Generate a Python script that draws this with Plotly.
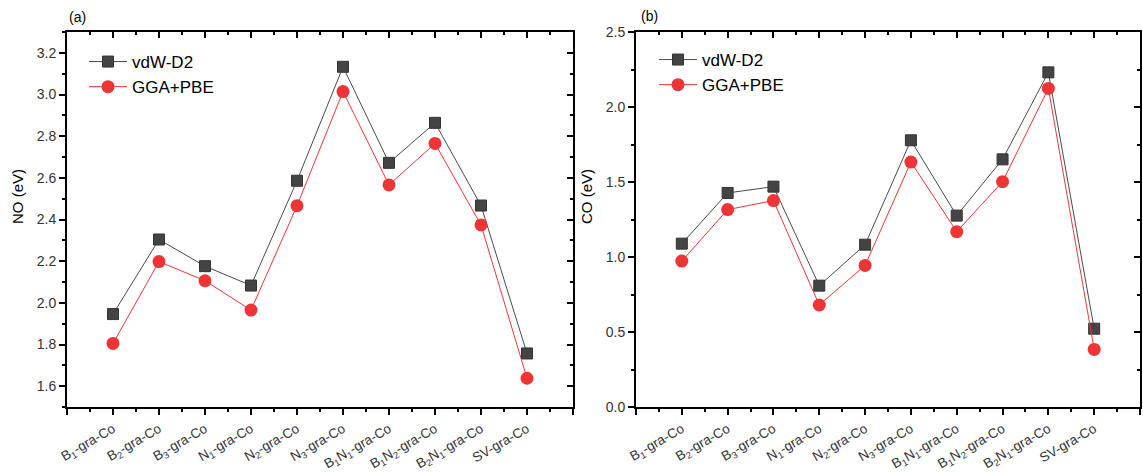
import plotly.graph_objects as go

categories = ["B<sub>1</sub>-gra-Co", "B<sub>2</sub>-gra-Co", "B<sub>3</sub>-gra-Co",
              "N<sub>1</sub>-gra-Co", "N<sub>2</sub>-gra-Co", "N<sub>3</sub>-gra-Co",
              "B<sub>1</sub>N<sub>1</sub>-gra-Co", "B<sub>1</sub>N<sub>2</sub>-gra-Co",
              "B<sub>2</sub>N<sub>1</sub>-gra-Co", "SV-gra-Co"]
positions = [1, 2, 3, 4, 5, 6, 7, 8, 9, 10]

no_vdw = [1.946, 2.304, 2.176, 2.083, 2.586, 3.133, 2.672, 2.864, 2.467, 1.757]
no_gga = [1.805, 2.198, 2.106, 1.965, 2.466, 3.014, 2.566, 2.765, 2.374, 1.638]
co_vdw = [1.089, 1.427, 1.469, 0.809, 1.082, 1.778, 1.276, 1.651, 2.231, 0.522]
co_gga = [0.973, 1.316, 1.376, 0.680, 0.944, 1.633, 1.169, 1.502, 2.124, 0.384]

series_names = ["vdW-D2", "GGA+PBE"]
axis_titles = ["NO (eV)", "CO (eV)"]
panel_labels = ["(a)", "(b)"]

FONT = "Arial, Liberation Sans, sans-serif"
GREY_LINE = "#4a4a4a"
GREY_MARK = "#444444"
RED = "#ee3535"

W, H = 1143, 474
def px_x(p):
    return p / W
def px_y(p):
    return 1 - p / H

fig = go.Figure()

def add_series(xa, ya, vdw, gga, legend):
    fig.add_trace(go.Scatter(x=positions, y=vdw, name=series_names[0], mode="lines+markers",
                             line=dict(color=GREY_LINE, width=1),
                             marker=dict(symbol="square", size=11, color=GREY_MARK,
                                         line=dict(color="#333333", width=1)),
                             xaxis=xa, yaxis=ya, legend=legend))
    fig.add_trace(go.Scatter(x=positions, y=gga, name=series_names[1], mode="lines+markers",
                             line=dict(color=RED, width=1),
                             marker=dict(symbol="circle", size=13, color=RED,
                                         line=dict(color=RED, width=0)),
                             xaxis=xa, yaxis=ya, legend=legend))

add_series("x", "y", no_vdw, no_gga, "legend")
add_series("x2", "y2", co_vdw, co_gga, "legend2")

# empty carriers so the mirrored frame axes (top / right, inward ticks) get drawn
for xa, ya in (("x3", "y3"), ("x4", "y4")):
    fig.add_trace(go.Scatter(x=[None], y=[None], xaxis=xa, yaxis=ya, showlegend=False,
                             hoverinfo="skip", mode="markers"))

xmajor = list(range(0, 12))
xtext = [""] + categories + [""]
xminor = [i + 0.5 for i in range(11)]

tickfont = dict(family=FONT, size=14, color="#333333")
AXW = 1.8

def xaxis_main(domain, anchor):
    return dict(domain=domain, anchor=anchor, range=[0, 11], tickmode="array",
                tickvals=xmajor, ticktext=xtext, tickangle=-30, ticks="outside",
                ticklen=6, tickwidth=AXW, tickcolor="black", showline=True,
                linecolor="black", linewidth=AXW, showgrid=False, zeroline=False,
                tickfont=dict(family=FONT, size=13.5, color="#333333"),
                ticklabelstandoff=1,
                minor=dict(tickvals=xminor, ticks="outside", ticklen=3, tickwidth=AXW,
                           tickcolor="black", showgrid=False),
                automargin=False)

def xaxis_top(overlay, anchor):
    return dict(overlaying=overlay, anchor=anchor, side="top", range=[0, 11],
                tickmode="array", tickvals=xmajor, showticklabels=False, ticks="inside",
                ticklen=6, tickwidth=AXW, tickcolor="black", showline=True,
                linecolor="black", linewidth=AXW, showgrid=False, zeroline=False,
                minor=dict(tickvals=xminor, ticks="inside", ticklen=3, tickwidth=AXW,
                           tickcolor="black", showgrid=False),
                automargin=False)

def yaxis_main(domain, anchor, rng, dtick, tick0):
    return dict(domain=domain, anchor=anchor, range=rng, dtick=dtick, tick0=tick0,
                tickformat=".1f", ticks="outside", ticklen=6, tickwidth=AXW,
                tickcolor="black", showline=True, linecolor="black", linewidth=AXW,
                showgrid=False, zeroline=False, tickfont=tickfont,
                minor=dict(dtick=dtick / 2, ticks="outside", ticklen=3, tickwidth=AXW,
                           tickcolor="black", showgrid=False),
                automargin=False)

def yaxis_right(overlay, anchor, rng, dtick, tick0):
    return dict(overlaying=overlay, anchor=anchor, side="right", range=rng, dtick=dtick,
                tick0=tick0, showticklabels=False, ticks="inside", ticklen=6,
                tickwidth=AXW, tickcolor="black", showline=True, linecolor="black",
                linewidth=AXW, showgrid=False, zeroline=False,
                minor=dict(dtick=dtick / 2, ticks="inside", ticklen=3, tickwidth=AXW,
                           tickcolor="black", showgrid=False),
                automargin=False)

ydom = [px_y(407), px_y(32)]
dom_a = [px_x(67), px_x(573)]
dom_b = [px_x(636), px_x(1140)]

legend_font = dict(family=FONT, size=17, color="black")

fig.update_layout(
    width=W, height=H, autosize=False,
    margin=dict(l=0, r=0, t=0, b=0),
    paper_bgcolor="white", plot_bgcolor="white",
    font=dict(family=FONT),
    xaxis=xaxis_main(dom_a, "y"),
    yaxis=yaxis_main(ydom, "x", [1.5, 3.3], 0.2, 1.6),
    xaxis2=xaxis_main(dom_b, "y2"),
    yaxis2=yaxis_main(ydom, "x2", [0, 2.5], 0.5, 0),
    xaxis3=xaxis_top("x", "y3"),
    yaxis3=yaxis_right("y", "x3", [1.5, 3.3], 0.2, 1.6),
    xaxis4=xaxis_top("x2", "y4"),
    yaxis4=yaxis_right("y2", "x4", [0, 2.5], 0.5, 0),
    legend=dict(x=px_x(84), y=px_y(44), xanchor="left", yanchor="top",
                bgcolor="rgba(0,0,0,0)", font=legend_font, tracegroupgap=0,
                itemwidth=38),
    legend2=dict(x=px_x(654), y=px_y(42), xanchor="left", yanchor="top",
                 bgcolor="rgba(0,0,0,0)", font=legend_font, tracegroupgap=0,
                 itemwidth=38),
    annotations=[
        dict(text=panel_labels[0], x=px_x(67), y=px_y(27), xref="paper", yref="paper",
             xanchor="left", yanchor="bottom", showarrow=False,
             font=dict(family=FONT, size=14, color="black")),
        dict(text=panel_labels[1], x=px_x(639), y=px_y(26), xref="paper", yref="paper",
             xanchor="left", yanchor="bottom", showarrow=False,
             font=dict(family=FONT, size=14, color="black")),
        dict(text=axis_titles[0], x=px_x(18), y=px_y(197), xref="paper", yref="paper",
             xanchor="center", yanchor="middle", textangle=-90, showarrow=False,
             font=dict(family=FONT, size=15, color="black")),
        dict(text=axis_titles[1], x=px_x(587), y=px_y(197), xref="paper", yref="paper",
             xanchor="center", yanchor="middle", textangle=-90, showarrow=False,
             font=dict(family=FONT, size=15, color="black")),
    ],
)

fig.write_html("out.html", config={"responsive": False, "displayModeBar": False},
               post_script="document.body.style.margin='0';document.body.style.padding='0';")
